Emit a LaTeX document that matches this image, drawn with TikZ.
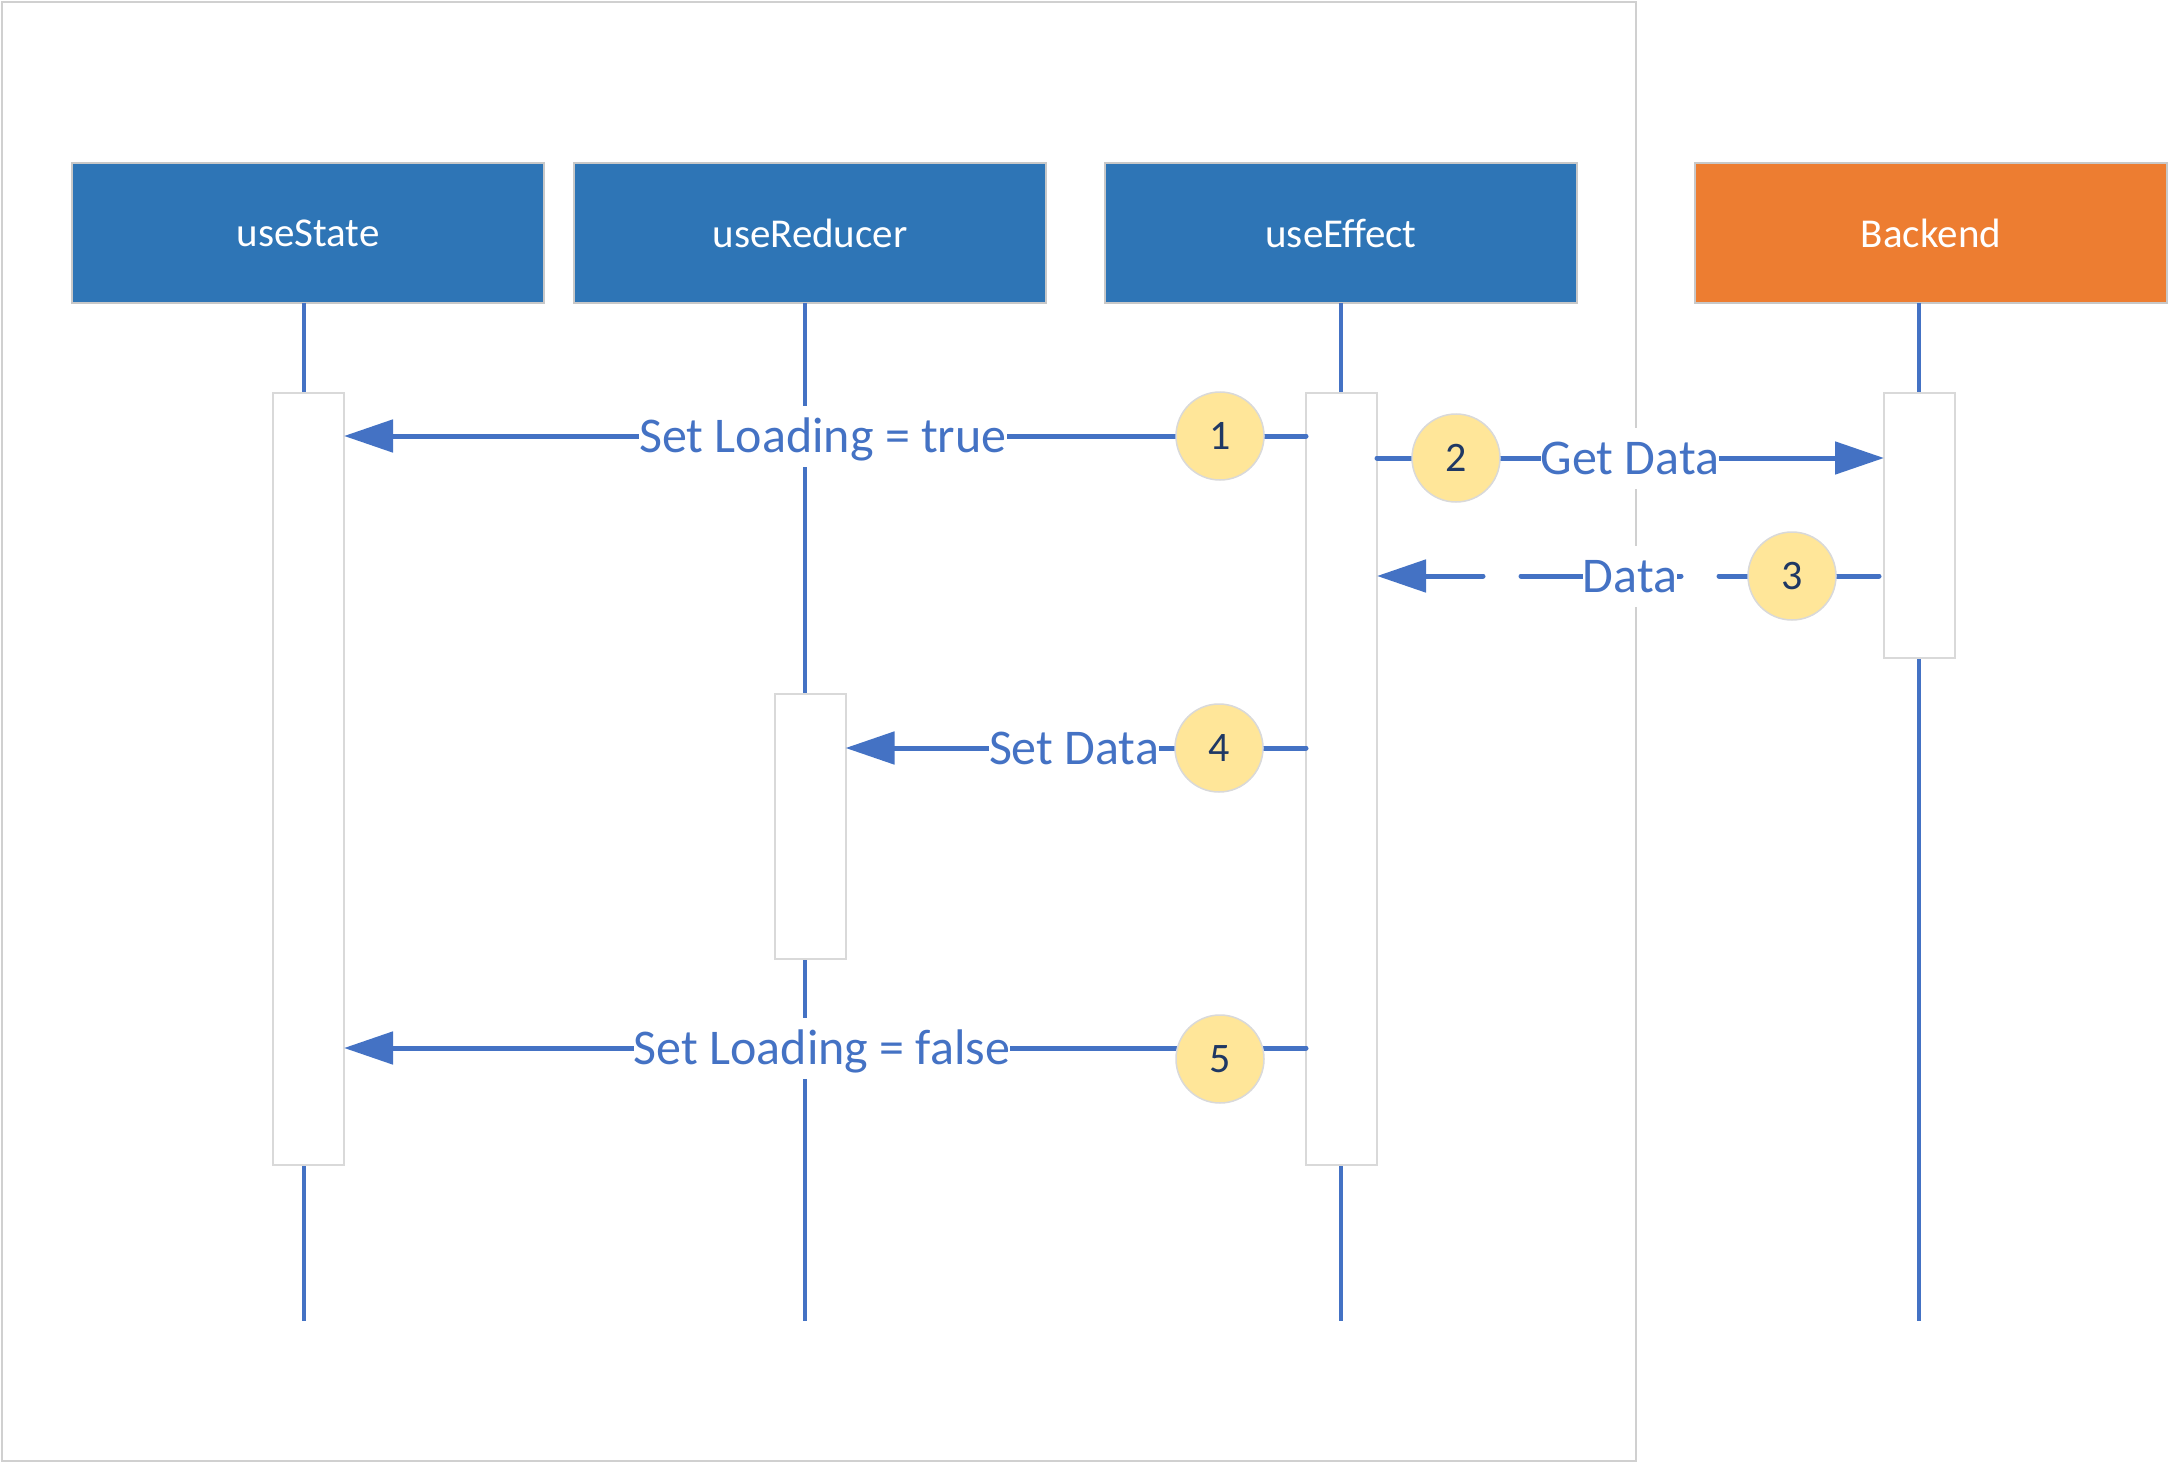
\documentclass[tikz,border=0pt]{standalone}
\usepackage{fontspec}
\setmainfont{Carlito}
\usetikzlibrary{arrows.meta}
\definecolor{hdrblue}{HTML}{2E75B6}
\definecolor{bkorange}{HTML}{ED7D31}
\definecolor{linecol}{HTML}{4472C4}
\definecolor{numfill}{HTML}{FFE699}
\definecolor{numtext}{HTML}{1F3864}
\definecolor{actgray}{HTML}{D9D9D9}
\definecolor{framegray}{HTML}{D0D0D0}
\definecolor{hdrborder}{HTML}{C8C8C8}
\begin{document}
\begin{tikzpicture}[x=1pt,y=-1pt,
  hdr/.style={rectangle, draw=hdrborder, line width=1.5pt, fill=hdrblue, text=white,
    minimum width=472pt, minimum height=140pt, inner sep=0pt, outer sep=0pt,
    font=\fontsize{41}{49}\selectfont},
  act/.style={rectangle, draw=actgray, line width=2pt, fill=white,
    minimum width=71pt, inner sep=0pt, outer sep=0pt},
  life/.style={draw=linecol, line width=4pt},
  msg/.style={draw=linecol, line width=5pt, line cap=round,
    -{Triangle[length=49pt,width=32pt]}},
  lbl/.style={fill=white, text=linecol, anchor=base, inner xsep=0pt, inner ysep=0pt,
    text height=46pt, text depth=14.5pt, font=\fontsize{50}{60}\selectfont},
  num/.style={circle, draw=actgray, line width=1.5pt, fill=numfill, text=numtext,
    minimum size=88pt, inner sep=0pt, font=\fontsize{42}{50}\selectfont}
]
\useasboundingbox (0,0) rectangle (2169,1463);
\fill[white] (0,0) rectangle (2169,1463);
\draw[framegray, line width=2pt] (2,2) rectangle (1636,1461);

% headers
\node[hdr] (us) at (308,233) {useState};
\node[hdr] (ur) at (810,233) {useReducer};
\node[hdr] (ue) at (1341,233) {useEffect};
\node[hdr, fill=bkorange] (be) at (1931,233) {Backend};

% lifelines
\coordinate (usend) at (304,1321);
\coordinate (urend) at (805,1321);
\coordinate (ueend) at (1341,1321);
\coordinate (beend) at (1919,1321);
\draw[life] (usend |- us.south) -- (usend);
\draw[life] (urend |- ur.south) -- (urend);
\draw[life] (ueend |- ue.south) -- (ueend);
\draw[life] (beend |- be.south) -- (beend);

% activation boxes
\node[act, minimum height=772pt] (usact) at (308.5,779) {};
\node[act, minimum height=772pt] (ueact) at (1341.5,779) {};
\node[act, minimum height=265pt] (beact) at (1919.5,525.5) {};
\node[act, minimum height=265pt] (uract) at (810,826.5) {};

% rows
\coordinate (r1) at (0,436);
\coordinate (r2) at (0,458);
\coordinate (r3) at (0,576);
\coordinate (r4) at (0,748);
\coordinate (r5) at (0,1048);

\draw[msg] (ueact.west |- r1) -- (usact.east |- r1);
\draw[msg] (ueact.east |- r2) -- (beact.west |- r2);
\draw[msg, dash pattern=on 160pt off 38pt, shorten <=5pt] (beact.west |- r3) -- (ueact.east |- r3);
\draw[msg] (ueact.west |- r4) -- (uract.east |- r4);
\draw[msg] (ueact.west |- r5) -- (usact.east |- r5);

% labels
\node[lbl] (t1) at (823,452) {Set Loading = true};
\node[lbl] (t2) at (1630,474) {Get Data};
\node[lbl] (t3) at (1630,592) {Data};
\node[lbl] (t4) at (1074,764) {Set Data};
\node[lbl] (t5) at (822,1064) {Set Loading = false};

% step numbers
\node[num] (c1) at (1220,436) {1};
\node[num] (c2) at (1456,458) {2};
\node[num] (c3) at (1792,576) {3};
\node[num] (c4) at (1219,748) {4};
\node[num] (c5) at (1220,1059) {5};
\end{tikzpicture}
\end{document}
